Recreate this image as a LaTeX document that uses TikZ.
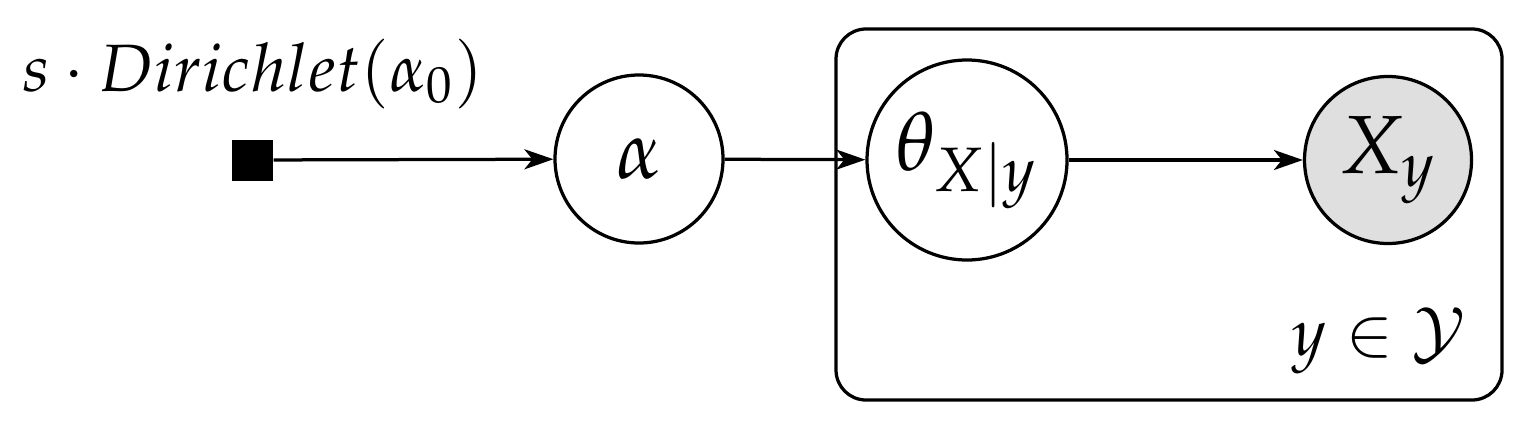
\documentclass[tikz,border=0pt]{standalone}
\usepackage{mathpazo}
\usetikzlibrary{arrows.meta}
\tikzset{
  latentnode/.style={circle,draw,line width=0.65pt,inner sep=0pt,font=\fontsize{16.5}{19}\selectfont},
  obsnode/.style={latentnode,fill=gray!25},
  factornode/.style={rectangle,fill=black,inner sep=0pt,minimum size=8.2pt},
  platebox/.style={rectangle,draw,line width=0.65pt,rounded corners=6pt,inner sep=0pt},
  edgearrow/.style={line width=0.65pt,-{Stealth[length=5.8pt,width=4pt,inset=1.6pt]}},
  labelfont/.style={font=\fontsize{13.4}{16}\selectfont}
}
\begin{document}
\begin{tikzpicture}[x=0.2pt,y=-0.2pt]
\useasboundingbox (0,0) rectangle (1527,426);
\node[platebox,minimum width=133.2pt,minimum height=74.2pt] (plate) at (1169,214.5) {};
\node[factornode] (f) at (252,160) {};
\node[labelfont,anchor=base] (flabel) at (253,91) {$s\cdot Dirichlet(\alpha_0)$};
\node[latentnode,minimum size=33.6pt] (alpha) at (639,159) {$\alpha$};
\node[latentnode,minimum size=40pt] (theta) at (967,160) {$\theta_{X|y}$};
\node[obsnode,minimum size=33.4pt] (X) at (1388,160) {$X_y$};
\node[labelfont,anchor=base east,inner sep=0pt] (plabel) at (1467,355) {$y\in\mathcal{Y}$};
\draw[edgearrow] (f) -- (alpha);
\draw[edgearrow] (alpha) -- (theta);
\draw[edgearrow] (theta) -- (X);
\end{tikzpicture}
\end{document}
